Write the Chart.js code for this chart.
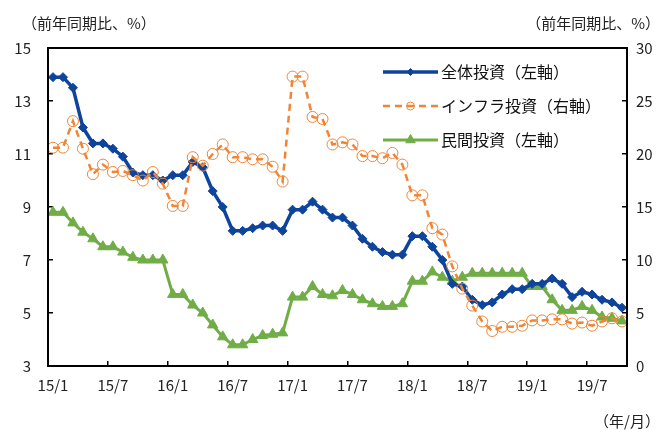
<!DOCTYPE html>
<html>
<head>
<meta charset="utf-8">
<script src="https://cdn.jsdelivr.net/npm/chart.js@4"></script>
<style>
  html, body { margin: 0; background: #fff; }
  #wrap { width: 667px; height: 430px; }
</style>
</head>
<body>
<div id="wrap"><canvas id="c"></canvas></div>
<script>
// months, 15/1 .. 19/10 (Jan plotted with the Jan-Feb value)
const months = [
  '15/1','15/2','15/3','15/4','15/5','15/6','15/7','15/8','15/9','15/10','15/11','15/12',
  '16/1','16/2','16/3','16/4','16/5','16/6','16/7','16/8','16/9','16/10','16/11','16/12',
  '17/1','17/2','17/3','17/4','17/5','17/6','17/7','17/8','17/9','17/10','17/11','17/12',
  '18/1','18/2','18/3','18/4','18/5','18/6','18/7','18/8','18/9','18/10','18/11','18/12',
  '19/1','19/2','19/3','19/4','19/5','19/6','19/7','19/8','19/9','19/10'
];

// 全体投資 (left axis)
const totalInv = [
  13.9, 13.9, 13.5, 12.0, 11.4, 11.4, 11.2, 10.9, 10.3, 10.2, 10.2, 10.0,
  10.2, 10.2, 10.7, 10.5, 9.6, 9.0, 8.1, 8.1, 8.2, 8.3, 8.3, 8.1,
  8.9, 8.9, 9.2, 8.9, 8.6, 8.6, 8.3, 7.8, 7.5, 7.3, 7.2, 7.2,
  7.9, 7.9, 7.5, 7.0, 6.1, 6.0, 5.5, 5.3, 5.4, 5.7, 5.9, 5.9,
  6.1, 6.1, 6.3, 6.1, 5.6, 5.8, 5.7, 5.5, 5.4, 5.2
];

// インフラ投資 (right axis)
const infraInv = [
  20.6, 20.6, 23.1, 20.5, 18.1, 19.0, 18.3, 18.4, 18.0, 17.5, 18.3, 17.2,
  15.1, 15.1, 19.7, 18.9, 20.0, 20.9, 19.7, 19.7, 19.5, 19.5, 18.8, 17.4,
  27.3, 27.3, 23.5, 23.3, 20.9, 21.1, 20.9, 19.8, 19.8, 19.6, 20.1, 19.0,
  16.1, 16.1, 13.0, 12.4, 9.4, 7.3, 5.7, 4.2, 3.3, 3.7, 3.7, 3.8,
  4.3, 4.3, 4.4, 4.4, 4.0, 4.1, 3.8, 4.2, 4.5, 4.2
];

// 民間投資 (left axis)
const privateInv = [
  8.8, 8.8, 8.4, 8.05, 7.8, 7.5, 7.5, 7.3, 7.1, 7.0, 7.0, 7.0,
  5.7, 5.7, 5.3, 5.0, 4.55, 4.1, 3.8, 3.8, 4.0, 4.15, 4.2, 4.25,
  5.6, 5.6, 6.0, 5.7, 5.65, 5.85, 5.7, 5.5, 5.35, 5.25, 5.25, 5.35,
  6.2, 6.2, 6.55, 6.35, 6.2, 6.35, 6.5, 6.5, 6.5, 6.5, 6.5, 6.5,
  6.0, 6.0, 5.5, 5.1, 5.1, 5.25, 5.1, 4.85, 4.8, 4.7
];

const seriesNames = ['全体投資（左軸）', 'インフラ投資（右軸）', '民間投資（左軸）'];
const leftTitle = '（前年同期比、%）';
const rightTitle = '（前年同期比、%）';
const xTitle = '（年/月）';

const FONT = "'Noto Sans CJK JP', 'Noto Sans', sans-serif";
const BLUE = '#0e449c';
const ORANGE = '#f08536';
const GREEN = '#70ad47';

const frame = {
  id: 'frame',
  afterDraw(chart) {
    const { ctx, chartArea: a } = chart;
    ctx.save();
    ctx.strokeStyle = '#000';
    ctx.lineWidth = 2;
    ctx.strokeRect(a.left, a.top, a.right - a.left, a.bottom - a.top);

    // axis titles
    ctx.fillStyle = '#222';
    ctx.font = '15px ' + FONT;
    ctx.textBaseline = 'middle';
    ctx.textAlign = 'left';
    ctx.fillText(leftTitle, 22, 23);
    ctx.textAlign = 'right';
    ctx.fillText(rightTitle, 660, 23);
    ctx.fillText(xTitle, 660, 421);

    // legend
    const rows = [72, 106, 140];
    const x1 = 383, x2 = 438;
    const sizes = [3.5, 4, 5.5];
    chart.data.datasets.forEach((ds, i) => {
      const y = rows[i];
      ctx.beginPath();
      ctx.setLineDash(ds.borderDash || []);
      ctx.strokeStyle = ds.borderColor;
      ctx.lineWidth = ds.borderWidth;
      ctx.moveTo(x1, y);
      ctx.lineTo(x2, y);
      ctx.stroke();
      ctx.setLineDash([]);
      ctx.fillStyle = ds.pointBackgroundColor;
      ctx.strokeStyle = ds.pointBorderColor;
      ctx.lineWidth = ds.pointBorderWidth;
      Chart.helpers.drawPoint(ctx, { pointStyle: ds.pointStyle, radius: sizes[i], rotation: 0, borderWidth: ds.pointBorderWidth }, (x1 + x2) / 2, y);
      ctx.fillStyle = '#111';
      ctx.font = '16px ' + FONT;
      ctx.textAlign = 'left';
      ctx.textBaseline = 'middle';
      ctx.fillText(seriesNames[i], 441, y);
    });
    ctx.restore();
  }
};

new Chart('c', {
  type: 'line',
  data: {
    labels: months,
    datasets: [
      {
        label: seriesNames[0],
        data: totalInv,
        yAxisID: 'yL',
        borderColor: BLUE,
        borderWidth: 3.5,
        pointStyle: 'rectRot',
        pointRadius: 4.5,
        pointBackgroundColor: BLUE,
        pointBorderColor: BLUE,
        pointBorderWidth: 1,
        order: 1
      },
      {
        label: seriesNames[1],
        data: infraInv,
        yAxisID: 'yR',
        borderColor: ORANGE,
        borderWidth: 2.5,
        borderDash: [7, 5],
        pointStyle: 'circle',
        pointRadius: 5.5,
        pointBackgroundColor: 'rgba(255,255,255,0)',
        pointBorderColor: ORANGE,
        pointBorderWidth: 1,
        order: 0
      },
      {
        label: seriesNames[2],
        data: privateInv,
        yAxisID: 'yL',
        borderColor: GREEN,
        borderWidth: 3,
        pointStyle: 'triangle',
        pointRadius: 6,
        pointBackgroundColor: GREEN,
        pointBorderColor: GREEN,
        pointBorderWidth: 1,
        order: 2
      }
    ]
  },
  options: {
    responsive: true,
    maintainAspectRatio: false,
    animation: false,
    layout: { padding: { top: 48, left: 0, right: 0, bottom: 0 } },
    elements: { line: { tension: 0 } },
    plugins: { legend: { display: false }, tooltip: { enabled: false } },
    scales: {
      x: {
        offset: true,
        grid: {
          offset: true,
          drawOnChartArea: false,
          tickLength: -5,
          color: ctx => (ctx.index % 6 === 0 ? '#000' : 'rgba(0,0,0,0)'),
          lineWidth: 1.5
        },
        border: { display: false },
        ticks: {
          autoSkip: false,
          maxRotation: 0,
          padding: 15,
          color: '#222',
          font: { family: FONT, size: 15 },
          callback: (v, i) => (i % 6 === 0 ? months[i] : '')
        },
        afterFit: s => { s.height = 64; }
      },
      yL: {
        position: 'left',
        min: 3, max: 15,
        ticks: { stepSize: 2, padding: 22, color: '#222', font: { family: FONT, size: 15 } },
        grid: { drawOnChartArea: false, tickLength: -5, color: '#000', lineWidth: 1.5 },
        border: { display: false },
        afterFit: s => { s.width = 48; }
      },
      yR: {
        position: 'right',
        min: 0, max: 30,
        ticks: { stepSize: 5, padding: 14, color: '#222', font: { family: FONT, size: 15 } },
        grid: { drawOnChartArea: false, tickLength: -5, color: '#000', lineWidth: 1.5 },
        border: { display: false },
        afterFit: s => { s.width = 40; }
      }
    }
  },
  plugins: [frame]
});
</script>
</body>
</html>
